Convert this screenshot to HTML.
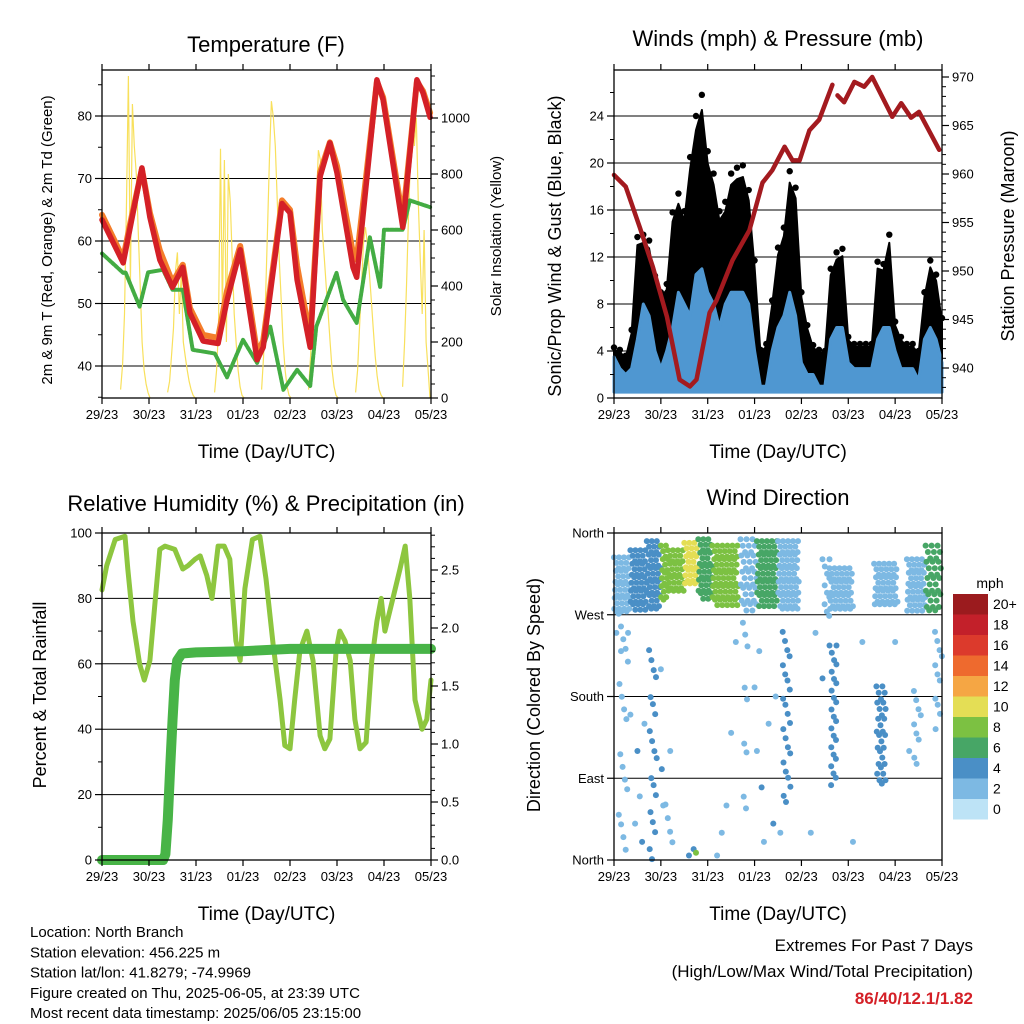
<!DOCTYPE html>
<html><head><meta charset="utf-8"><style>
body{margin:0;background:#fff;}
svg{display:block;font-family:"Liberation Sans",sans-serif;}
</style></head><body>
<svg id="c" width="1024" height="1024" viewBox="0 0 1024 1024" xmlns="http://www.w3.org/2000/svg"></svg>
<script>
// ---------- DATA ----------
const dayLabels=["29/23","30/23","31/23","01/23","02/23","03/23","04/23","05/23"];
const tempT=[0,0.45,0.6,0.85,1.02,1.23,1.5,1.72,1.87,2.15,2.47,2.66,2.94,3.08,3.3,3.43,3.83,4.0,4.15,4.43,4.64,4.85,5.0,5.34,5.42,5.85,5.98,6.4,6.7,6.83,6.98];
const tempRed=[63.4,56.5,62.2,71.7,63.8,57,52.6,55.8,48.5,44,43.6,50.5,58.6,51.7,41,43,66,64.5,53.8,43,70.3,75.7,70.9,55.8,54.2,85.8,82.6,62.2,85.8,83.7,79.8];
const tempOrange=[64.2,57.2,62.8,71.5,64.5,58.5,53.4,56.2,49.3,45,44.5,52,59.2,53,42,44,66.5,65,56,44.5,71,75.8,72,58,57,85.5,83,63.5,85.5,84,80.5];
const tdT=[0,0.45,0.5,0.8,0.98,1.3,1.5,1.72,1.93,2.4,2.66,3.0,3.3,3.58,3.86,4.15,4.43,4.56,4.99,5.13,5.42,5.7,5.92,6.0,6.4,6.55,6.98];
const tdVal=[58,54.9,55,49.5,55,55.4,52.2,52.2,42.6,42,38.2,44.2,40.5,46.3,36.2,39.4,36.8,46.3,54.9,50.6,46.9,60.6,52.6,61.8,61.8,66.5,65.4];
const solar=[
 [30,120,300,700,1150,400,1050,900,800,600,400,200,100,50,20,0],
 [20,60,150,250,450,520,300,450,200,150,100,60,30,10,0,0],
 [20,100,250,890,300,850,200,800,700,500,300,200,100,40,10,0],
 [30,150,350,600,850,1060,1000,900,700,500,350,200,100,40,10,0],
 [30,150,350,500,700,885,850,600,500,400,300,200,100,40,10,0],
 [20,100,250,400,550,610,550,450,350,250,150,80,30,10,0,0],
 [40,200,400,650,850,1030,900,1000,700,500,300,600,200,100,0,0]];
const windGust=[4.3,4.1,3.6,5.8,13.7,13.9,13.4,10.4,9,9.7,15.8,17.4,15.9,20.5,24,25.8,21,19.1,15.9,16.7,19.1,19.6,19.8,17.7,11.7,4.1,4.6,8.3,12.8,14.5,19.3,17.9,9,6.2,4.5,4.1,4,11,12.4,12.7,5.2,4.6,4.6,4.6,4.6,11.6,11.4,13.9,6.5,5.2,4.6,4.6,4,9,11.7,10.5,6.8];
const windSust=[3.5,2.5,2,2.5,5,8,7,4,2.5,4,6,9,8,7,10.5,11,9,8,6,8,9,9,9,8,4,1,1,4,6,7,9,7,3,2,2,1,1,5,6,6,3,2.5,2.5,2.5,2.5,5,6,6,4,2.5,2.5,2.5,1.5,5,6,5,3];
const presT=[0,0.25,0.55,0.83,1.13,1.4,1.62,1.76,2.04,2.19,2.53,2.89,3.17,3.38,3.64,3.81,3.96,4.17,4.38,4.66,4.77,4.91,5.13,5.34,5.51,5.94,6.13,6.34,6.51,6.94];
const presVal=[959.9,958.7,954.5,950.4,945.3,938.8,938.1,938.8,945.7,947,951.1,954.2,959.1,960.4,962.8,961.4,961.4,964.5,965.6,969.2,968.1,967.4,969.5,969,970,965.9,967.3,965.8,966.4,962.5];
const rhT=[0,0.1,0.28,0.49,0.55,0.66,0.8,0.9,1.02,1.13,1.23,1.34,1.55,1.72,1.83,1.98,2.09,2.23,2.34,2.47,2.6,2.72,2.85,2.94,3.04,3.2,3.36,3.49,3.64,3.79,3.89,4.0,4.1,4.21,4.36,4.49,4.64,4.74,4.85,4.98,5.06,5.17,5.28,5.38,5.49,5.62,5.74,5.85,5.94,6.02,6.19,6.34,6.45,6.55,6.66,6.81,6.91,7.0];
const rhVal=[82.6,90,98,99,89,73,60,55,61,79,95,96,95,89,90,92,93,87,80,96,96,92,67,61,83,98,99,86,66,49,35,34,49,64,70,61,38,34,37,64,70,67,61,43,34,36,61,73,80,70,80,89,96,80,49,40,43,55];
const prT=[0,1.3,1.35,1.4,1.45,1.5,1.55,1.6,1.7,2.0,3.0,4.0,7.0];
const prVal=[0,0,0.05,0.35,0.8,1.2,1.55,1.72,1.78,1.79,1.8,1.82,1.82];
// Wind direction bands: start day, end day, dir low, dir high, speed class, spacing
const bandT0=[0,0.35,0.7,1.0,1.15,1.5,1.8,2.1,2.7,3.05,3.5,4.45,4.6,5.55,6.25,6.65, 0.1,0.75,3.6,4.6,5.6,6.4,6.85,2.75,1.1];
const bandT1=[0.35,0.7,1.0,1.15,1.5,1.8,2.1,2.65,3.05,3.5,3.95,4.6,5.1,6.05,6.65,6.98, 0.3,0.92,3.78,4.78,5.8,6.55,7.0,2.85,1.3];
const bandLo=[270,272,275,285,295,300,285,280,270,276,275,265,272,280,272,270, 0,0,60,80,80,100,140,40,5];
const bandHi=[332,340,350,345,340,348,352,345,352,350,350,330,320,325,330,345, 270,230,250,235,190,185,250,260,60];
const bandSpd=[1,3,4,7,8,9,6,8,2,5,1,1,2,2,2,5, 1,4,4,4,4,2,2,1,1];
const bandGap=[5,5,5,5,5,5,5,5,6,5,5,7,5,5,5,6, 13,10,9,7,6,9,9,12,14];
const scT=[0.05,0.15,0.3,0.35,0.45,0.5,0.55,0.6,0.65,1.0,1.02,1.05,1.2,2.2,2.3,2.4,2.5,2.6,3.0,3.05,3.1,3.15,3.2,3.3,3.4,3.45,4.2,4.3,4.45,5.1,5.3,6.0,6.3,1.6,1.7,1.75,3.55];
const scD=[250,230,250,160,40,120,70,20,150,210,100,60,120,5,30,60,140,240,190,120,230,80,20,150,40,180,30,250,200,20,240,240,120,5,12,8,30];
const scS=[1,2,1,2,1,4,1,4,1,2,4,1,1,1,1,1,1,2,2,2,1,4,1,1,4,2,1,2,4,1,1,1,2,4,4,7,2];
const cbLabels=["20+","18","16","14","12","10","8","6","4","2","0"];
const cbColors=["#9b1b1e","#c3202a","#dc3a2c","#ee6a2e","#f5a644","#e4de55","#7cc142","#47a666","#4a8fc6","#7db9e3","#bde3f6"];
// ---------- HELPERS ----------
const NS="http://www.w3.org/2000/svg";
const svg=document.getElementById('c');
function el(tag,attrs,parent,text){const e=document.createElementNS(NS,tag);for(const k in attrs)e.setAttribute(k,attrs[k]);if(text!==undefined)e.textContent=text;(parent||svg).appendChild(e);return e;}
function grp(name){const g=el('g',{});return g;}
function spdColor(s){const i=Math.min(10,Math.floor((s+1)/2));return cbColors[10-i];}
function panel(name,x0,x1,y0,y1){const g=grp(name);return {g,x0,x1,y0,y1,sx:d=>x0+(x1-x0)*d/7};}
function frame(p,xTitle){
 const g=p.g;
 const ax=el('rect',{x:p.x0,y:p.y0,width:p.x1-p.x0,height:p.y1-p.y0,fill:'none',stroke:'#000','stroke-width':1.3},g);
 
 for(let i=0;i<8;i++){const x=p.sx(i);
  el('line',{x1:x,x2:x,y1:p.y1,y2:p.y1+6,stroke:'#000','stroke-width':1.2},g);
  el('line',{x1:x,x2:x,y1:p.y0,y2:p.y0-6,stroke:'#000','stroke-width':1.2},g);
  const t=el('text',{x:x,y:p.y1+21,'font-size':13,'text-anchor':'middle'},g,dayLabels[i]);
  }
 const xt=el('text',{x:(p.x0+p.x1)/2,y:p.y1+60,'font-size':19,'text-anchor':'middle'},g,xTitle);
 
}
function yAxis(p,side,ticks,labels,sy,minor){
 const g=p.g;const x=side==='l'?p.x0:p.x1;const dir=side==='l'?-1:1;
 if(minor)minor.forEach(v=>{const y=sy(v);el('line',{x1:x,x2:x+dir*4,y1:y,y2:y,stroke:'#000','stroke-width':1},g);});
 ticks.forEach((v,i)=>{const y=sy(v);el('line',{x1:x,x2:x+dir*7,y1:y,y2:y,stroke:'#000','stroke-width':1.2},g);
  const t=el('text',{x:x+dir*10,y:y+4.5,'font-size':13,'text-anchor':side==='l'?'end':'start'},g,labels[i]);
  });
}
function hgrid(p,vals,sy){vals.forEach(v=>{const y=sy(v);const l=el('line',{x1:p.x0,x2:p.x1,y1:y,y2:y,stroke:'#000','stroke-width':1},p.g);});}
function poly(p,ts,vs,sy,style,name){const pts=[];ts.forEach((t,i)=>{if(vs[i]!==null)pts.push(p.sx(t).toFixed(1)+','+sy(vs[i]).toFixed(1));});
 const l=el('polyline',Object.assign({points:pts.join(' '),fill:'none','stroke-linejoin':'round','stroke-linecap':'round'},style),p.g);
 return l;}
function title(x,y,txt,size,name,rot){const a={x:x,y:y,'font-size':size,'text-anchor':'middle'};if(rot)a.transform='rotate(-90 '+x+' '+y+')';const t=el('text',a,svg,txt);}

// ---------- PANEL 1 ----------
const P1=panel('temperature-panel',102,431,70,398);
const syT=v=>116+(80-v)*6.25;
const syS=v=>398-v*0.28;
hgrid(P1,[40,50,60,70,80],syT);
const solarG=grp('solar-insolation-series');P1.g.appendChild(solarG);
solar.forEach((arr,d)=>{const pts=[];arr.forEach((v,h)=>{const t=d+(9.5+h)/24;if(t<=7)pts.push(P1.sx(t).toFixed(1)+','+syS(v).toFixed(1));});
 const l=el('polyline',{points:pts.join(' '),fill:'none',stroke:'#f8e05c','stroke-width':1.2},solarG);
 });
poly(P1,tdT,tdVal,syT,{stroke:'#43ac43','stroke-width':4,'stroke-dasharray':'3 1.5'},'dewpoint-series');
poly(P1,tempT,tempOrange,syT,{stroke:'#f47d2a','stroke-width':6},'temp-9m-series');
poly(P1,tempT,tempRed,syT,{stroke:'#d42027','stroke-width':5.5},'temp-2m-series');
frame(P1,'Time (Day/UTC)');
yAxis(P1,'l',[40,50,60,70,80],['40','50','60','70','80'],syT,[35,45,55,65,75,85]);
yAxis(P1,'r',[0,200,400,600,800,1000],['0','200','400','600','800','1000'],syS,[50,100,150,250,300,350,450,500,550,650,700,750,850,900,950,1050,1100,1150]);
title(266,52,'Temperature (F)',22,'temperature-title');
title(52,240,'2m & 9m T (Red, Orange) & 2m Td (Green)',15,'temperature-y-axis-title',true);
title(501,236,'Solar Insolation (Yellow)',15,'solar-y-axis-title',true);

// ---------- PANEL 2 ----------
const P2=panel('winds-panel',614,942,70,398);
const syW=v=>398-v*11.75;
const syP=v=>368-(v-940)*9.7;
hgrid(P2,[4,8,12,16,20,24],syW);
const wT=windGust.map((_,i)=>i*0.125);
(function(){const g=grp('gust-series');P2.g.appendChild(g);
 let d='M';wT.forEach((t,i)=>{d+=P2.sx(t).toFixed(1)+','+syW(windGust[i]*0.95).toFixed(1)+' L';});
 for(let i=wT.length-1;i>=0;i--){d+=P2.sx(wT[i]).toFixed(1)+','+syW(windSust[i]).toFixed(1)+(i?' L':' Z');}
 const pa=el('path',{d:d,fill:'#000',stroke:'#000','stroke-width':2,'stroke-linejoin':'round'},g);
 
 wT.forEach((t,i)=>{const c=el('circle',{cx:P2.sx(t),cy:syW(windGust[i]),r:3.2,fill:'#000'},g);
  });
})();
(function(){const g=grp('sustained-wind-series');P2.g.appendChild(g);
 let d='M';wT.forEach((t,i)=>{d+=P2.sx(t).toFixed(1)+','+syW(windSust[i]).toFixed(1)+' L';});
 d+=P2.sx(7).toFixed(1)+','+syW(0.5).toFixed(1)+' L'+P2.sx(0).toFixed(1)+','+syW(0.5).toFixed(1)+' Z';
 const pa=el('path',{d:d,fill:'#4f97d1',stroke:'#4f97d1','stroke-width':3,'stroke-linejoin':'round'},g);
 
})();
(function(){const a1=presT.filter(t=>t<=4.7).length;
 poly(P2,presT.slice(0,a1),presVal.slice(0,a1),syP,{stroke:'#a31a1f','stroke-width':4.5},'pressure-series');
 poly(P2,presT.slice(a1),presVal.slice(a1),syP,{stroke:'#a31a1f','stroke-width':4.5},'pressure-series-2');})();
frame(P2,'Time (Day/UTC)');
yAxis(P2,'l',[0,4,8,12,16,20,24],['0','4','8','12','16','20','24'],syW,[2,6,10,14,18,22,26]);
yAxis(P2,'r',[940,945,950,955,960,965,970],['940','945','950','955','960','965','970'],syP,[938,939,941,942,943,944,946,947,948,949,951,952,953,954,956,957,958,959,961,962,963,964,966,967,968,969]);
title(778,46,'Winds (mph) & Pressure (mb)',22,'winds-title');
title(561,246,'Sonic/Prop Wind & Gust (Blue, Black)',18,'winds-y-axis-title',true);
title(1014,236,'Station Pressure (Maroon)',18,'pressure-y-axis-title',true);

// ---------- PANEL 3 ----------
const P3=panel('humidity-panel',102,431,533,860);
const syR=v=>860-v*3.27;
const syPr=v=>860-v*116;
hgrid(P3,[20,40,60,80],syR);
poly(P3,rhT,rhVal,syR,{stroke:'#8dc63f','stroke-width':5},'humidity-series');
poly(P3,prT,prVal,syPr,{stroke:'#48b447','stroke-width':10},'precipitation-series');
frame(P3,'Time (Day/UTC)');
yAxis(P3,'l',[0,20,40,60,80,100],['0','20','40','60','80','100'],syR,[10,30,50,70,90]);
yAxis(P3,'r',[0,0.5,1,1.5,2,2.5],['0.0','0.5','1.0','1.5','2.0','2.5'],syPr,[0.1,0.2,0.3,0.4,0.6,0.7,0.8,0.9,1.1,1.2,1.3,1.4,1.6,1.7,1.8,1.9,2.1,2.2,2.3,2.4,2.6,2.7,2.8]);
title(266,511,'Relative Humidity (%) & Precipitation (in)',22,'humidity-title');
title(46,695,'Percent & Total Rainfall',18,'humidity-y-axis-title',true);

// ---------- PANEL 4 ----------
const P4=panel('wind-direction-panel',614,942,533,860);
const syD=v=>860-v/360*327;
hgrid(P4,[90,180,270],syD);
(function(){const g=grp('direction-bands');P4.g.appendChild(g);
 bandT0.forEach((t0,i)=>{const xa=P4.sx(t0),xb=P4.sx(bandT1[i]),ya=syD(bandHi[i]),yb=syD(bandLo[i]);const gap=bandGap[i];
  let k=0;for(let y=ya;y<=yb;y+=gap*0.9){const off=((k*2.3)%gap);for(let x=xa+off;x<=xb;x+=gap){
   const c=el('circle',{cx:x.toFixed(1),cy:(y+((k*7)%3)-1).toFixed(1),r:3,fill:spdColor(bandSpd[i])},g);
   }k++;}});
})();
(function(){const g=grp('direction-scatter');P4.g.appendChild(g);
 scT.forEach((t,i)=>{const c=el('circle',{cx:P4.sx(t),cy:syD(scD[i]),r:3,fill:spdColor(scS[i])},g);
  });})();
frame(P4,'Time (Day/UTC)');
yAxis(P4,'l',[0,90,180,270,360],['North','East','South','West','North'],syD,null);
title(778,505,'Wind Direction',22,'wind-direction-title');
title(540,695,'Direction (Colored By Speed)',18,'wind-direction-y-axis-title',true);
(function(){const g=grp('speed-colorbar');
 const t=el('text',{x:990,y:588,'font-size':14,'text-anchor':'middle'},g,'mph');
 cbLabels.forEach((lab,i)=>{const y=594+i*20.5;
  const r=el('rect',{x:953,y:y,width:35,height:20.5,fill:cbColors[i]},g);
  const tx=el('text',{x:993,y:y+15,'font-size':14},g,lab);});
})();

// ---------- FOOTER ----------
(function(){const g=grp('station-info');
 ["Location: North Branch","Station elevation: 456.225 m","Station lat/lon: 41.8279; -74.9969","Figure created on Thu, 2025-06-05, at 23:39 UTC","Most recent data timestamp: 2025/06/05 23:15:00"].forEach((s,i)=>{
  const t=el('text',{x:30,y:(937+i*20.3).toFixed(1),'font-size':15},g,s);});
 const g2=grp('extremes-summary');
 const a=el('text',{x:973,y:951,'font-size':17,'text-anchor':'end'},g2,'Extremes For Past 7 Days');
 const b=el('text',{x:973,y:977,'font-size':17,'text-anchor':'end'},g2,'(High/Low/Max Wind/Total Precipitation)');
 const c=el('text',{x:973,y:1004,'font-size':17,'text-anchor':'end','font-weight':'bold',fill:'#d42027'},g2,'86/40/12.1/1.82');
})();
</script>
</body></html>
